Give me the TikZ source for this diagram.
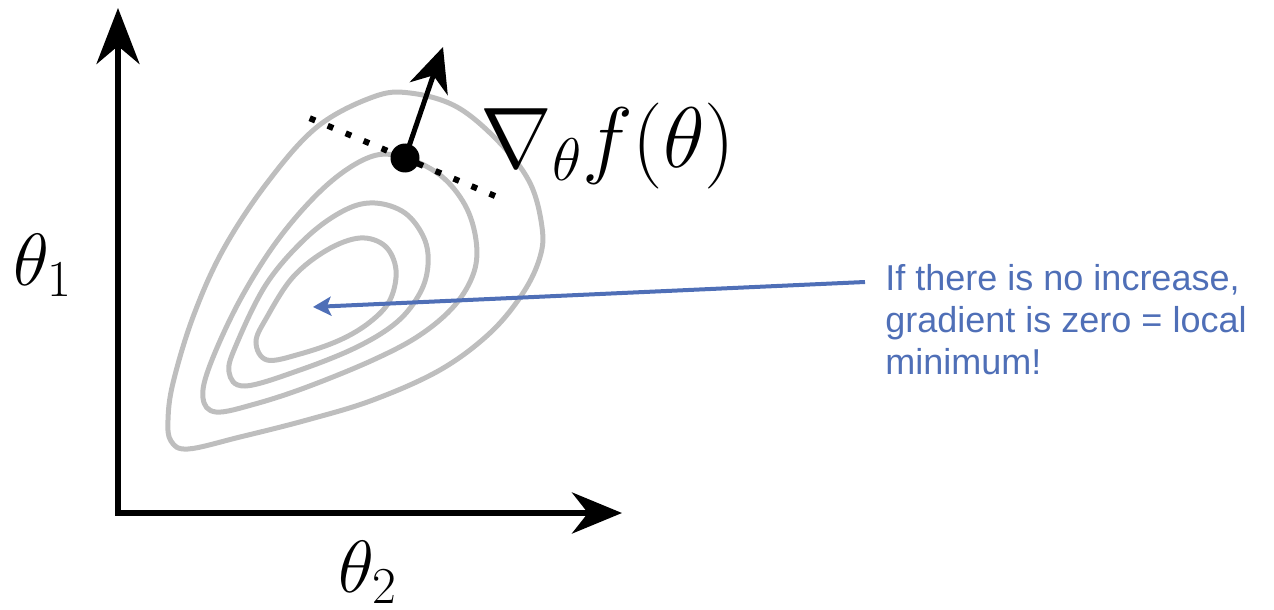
\RequirePackage{fix-cm}
\documentclass[tikz,border=0pt]{standalone}
\usepackage{fontspec}
\newfontfamily\notefont{Liberation Sans}
\usetikzlibrary{arrows.meta}
\definecolor{noteblue}{RGB}{79,111,183}
\definecolor{contourgray}{RGB}{190,190,190}
\begin{document}
\begin{tikzpicture}[x=0.5pt,y=-0.5pt,
  axis/.style={line width=3pt, line join=miter,
    {Stealth[length=28pt,width=21.5pt,inset=9pt]}-{Stealth[length=25pt,width=20.5pt,inset=8pt]}},
  contour/.style={draw=contourgray, line width=2.5pt},
  tangent/.style={line width=3pt, dash pattern=on 3pt off 6.75pt},
  gradarrow/.style={line width=2.5pt, -{Stealth[length=22pt,width=20pt,inset=7pt]}},
  pointer/.style={draw=noteblue, line width=2pt, -{Stealth[length=9pt,width=9.5pt,inset=2pt]}},
  mathlabel/.style={anchor=base west, inner sep=0pt},
  note/.style={anchor=north west, inner sep=0pt, align=left, text=noteblue,
    font=\notefont\fontsize{18}{21}\selectfont}
]
\useasboundingbox (0,0) rectangle (1274,610);

% contours
\draw[contour] plot[smooth cycle, tension=0.6] coordinates {
  (168,420) (173,383) (193,317) (223,250) (267,183) (317,127) (373,97) (410,93)
  (457,107) (500,143) (530,183) (542,227) (540,257) (523,293) (490,333)
  (440,370) (373,400) (307,420) (240,437) (188,449) (171,441)};
\draw[contour] plot[smooth cycle, tension=0.6] coordinates {
  (203,398) (210,365) (240,300) (280,237) (327,185) (370,157) (403,157)
  (440,175) (465,205) (476,240) (474,272) (455,305) (420,335) (373,360)
  (307,387) (255,404) (216,412)};
\draw[contour] plot[smooth cycle, tension=0.6] coordinates {
  (229,372) (237,343) (267,283) (307,237) (345,210) (375,203) (405,213)
  (424,238) (428,265) (420,293) (397,322) (357,347) (300,370) (245,386)};
\draw[contour] plot[smooth cycle, tension=0.6] coordinates {
  (256,342) (267,317) (293,277) (327,250) (360,238) (385,246) (396,270)
  (390,300) (370,322) (340,340) (300,354) (267,360)};

% axes
\coordinate (ytip) at (118,8);
\coordinate (origin) at (118,513);
\coordinate (xtip) at (622,513);
\draw[axis] (ytip) -- (origin) -- (xtip);

\node[mathlabel, font=\fontsize{37}{44}\selectfont] (t1) at (13,285) {$\theta_1$};
\node[mathlabel, font=\fontsize{37}{44}\selectfont] (t2) at (338,592) {$\theta_2$};

% tangent line and gradient
\coordinate (tanA) at (309.7,118.2);
\coordinate (tanB) at (495,196);
\draw[tangent] (tanA) -- (tanB);
\node[circle, fill=black, inner sep=0pt, minimum size=14.5pt] (pt) at (405,158) {};
\coordinate (gtip) at (443,47);
\draw[gradarrow] (pt.center) -- (gtip);
\node[mathlabel, font=\fontsize{43}{50}\selectfont] (grad) at (480,168) {$\nabla_\theta f(\theta)$};

% note
\node[note] (note) at (885,264) {If there is no increase,\\gradient is zero = local\\minimum!};
\coordinate (ns) at (865,282);
\coordinate (minc) at (313,307);
\draw[pointer] (ns) -- (minc);
\end{tikzpicture}
\end{document}
